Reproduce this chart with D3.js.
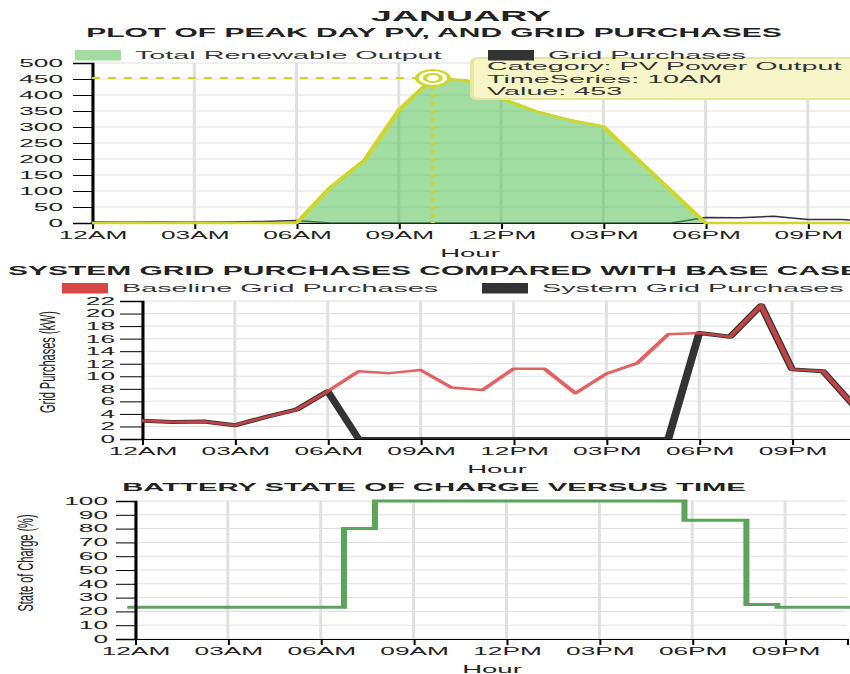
<!DOCTYPE html>
<html>
<head>
<meta charset="utf-8">
<script src="https://cdn.jsdelivr.net/npm/d3@7"></script>
<style>
  body { margin: 0; overflow: hidden; background: #fff; }
  svg { display: block; font-family: "Liberation Sans", Arial, sans-serif; }
  .grid line { stroke: #e0e0e0; }
  .axis path, .axis line { stroke: #000; }
  .axis text { fill: #222; font-size: 10.5px; font-family: "Liberation Sans", Arial, sans-serif; }
</style>
</head>
<body>
<svg id="chart"></svg>
<script>
// ---- data ----
var hours = d3.range(24);
var xTickHours = [0, 3, 6, 9, 12, 15, 18, 21];
var xTickLabels = ["12AM", "03AM", "06AM", "09AM", "12PM", "03PM", "06PM", "09PM"];

// peak day PV output (kW)
var pvOutput = [0, 0, 0, 0, 0, 0, 0, 112, 197, 353, 453, 445, 390, 350, 322, 302, 200, 100, 0, 0, 0, 0, 0, 0];
// grid purchases with the system (kW)
var systemGrid = [2.9, 2.7, 2.8, 2.2, 3.5, 4.7, 7.6, 0, 0, 0, 0, 0, 0, 0, 0, 0, 0, 0, 16.9, 16.3, 21.3, 11.1, 10.8, 5.3];
// grid purchases, base case (kW)
var baselineGrid = [2.9, 2.7, 2.8, 2.2, 3.5, 4.7, 7.6, 10.8, 10.5, 11.0, 8.2, 7.8, 11.2, 11.2, 7.3, 10.4, 12.1, 16.7, 16.9, 16.3, 21.3, 11.1, 10.8, 5.3];
// battery state of charge (%), hour boundaries 0..24
var socHours = d3.range(25);
var stateOfCharge = [23, 23, 23, 23, 23, 23, 23, 80, 100, 100, 100, 100, 100, 100, 100, 100, 100, 100, 86, 86, 25, 23, 23, 23, 23];
var SOC_OFFSET = 0.25; // soc samples are logged a quarter hour early

var pvTicks = d3.range(0, 501, 50);
var gridTicks = d3.range(0, 23, 2);
var socTicks = d3.range(0, 101, 10);

var highlightHour = 10;
var tooltipCategory = "PV Power Output";

// ---- layout ----
var W = 850, H = 674;
var SX = 2;      // whole chart is stretched sideways
var TX = 1.25;   // text gets a bit more
var LIME = "#d0d52a";
var RED = "#da4646";
var DARK = "#333";

function sx(v) { return v / SX; }

var svg = d3.select("#chart")
    .attr("width", W)
    .attr("height", H)
    .attr("viewBox", "0 0 " + (W / SX) + " " + H)
    .attr("preserveAspectRatio", "none");

function label(x, y, str, size, weight, anchor) {
    return svg.append("text")
        .attr("transform", "translate(" + sx(x) + "," + y + ") scale(" + TX + ",1)")
        .attr("text-anchor", anchor || "middle")
        .style("font-size", size + "px")
        .style("font-weight", weight || "normal")
        .attr("fill", "#222")
        .text(str);
}

function yLabel(x, y, str) {
    svg.append("text")
        .attr("transform", "translate(" + sx(x) + "," + y + ") rotate(-90)")
        .attr("text-anchor", "middle")
        .attr("dy", "0.35em")
        .style("font-size", "11px")
        .attr("fill", "#222")
        .text(str);
}

function legendItem(x, y, color, str, opacity) {
    svg.append("rect")
        .attr("x", sx(x)).attr("y", y - 5)
        .attr("width", 23).attr("height", 10.5)
        .attr("fill", color)
        .attr("fill-opacity", opacity || 1);
    label(x + 60, y + 4, str, 11.5, "normal", "start").attr("fill", "#333");
}

function frame(id, left, right, top, bottom, yMax, yTicks) {
    var x = d3.scaleLinear().domain([0, 23]).range([sx(left), sx(right)]);
    var y = d3.scaleLinear().domain([0, yMax]).range([bottom, top]);
    var g = svg.append("g");

    svg.append("clipPath").attr("id", id)
        .append("rect")
        .attr("x", x(0)).attr("y", top)
        .attr("width", x(23) - x(0)).attr("height", bottom - top);

    g.append("g").attr("class", "grid")
        .selectAll("line").data(yTicks).join("line")
        .attr("x1", x(0)).attr("x2", x(23))
        .attr("y1", y).attr("y2", y)
        .attr("stroke-width", 1);

    g.append("g").attr("class", "grid")
        .selectAll("line").data(xTickHours).join("line")
        .attr("x1", x).attr("x2", x)
        .attr("y1", y(0)).attr("y2", y(yMax))
        .attr("stroke-width", 1.5);

    return { x: x, y: y, g: g, clip: "url(#" + id + ")" };
}

function axes(c, yTicks, tickLen, tickPad) {
    var ax = c.g.append("g").attr("class", "axis")
        .attr("transform", "translate(0," + c.y.range()[0] + ")")
        .call(d3.axisBottom(c.x).tickValues(xTickHours).tickFormat(function (d, i) { return xTickLabels[i]; }));
    var ay = c.g.append("g").attr("class", "axis")
        .attr("transform", "translate(" + c.x(0) + ",0)")
        .call(d3.axisLeft(c.y).tickValues(yTicks).tickSize(tickLen).tickPadding(tickPad));
    ay.select(".domain").attr("stroke-width", 1.5);

    [ax, ay].forEach(function (a) {
        a.selectAll(".tick text")
            .attr("transform", "scale(" + TX + ",1)")
            .attr("x", function () { return +this.getAttribute("x") / TX; });
    });
}

// ================= chart 1: PV and grid purchases =================
var c1 = frame("clip1", 92, 876, 63, 223, 500, pvTicks);
axes(c1, pvTicks, 9.5, 5);

c1.g.append("path")
    .datum(hours)
    .attr("fill", "none")
    .attr("stroke", DARK)
    .attr("stroke-width", 1.5)
    .attr("d", d3.line().x(function (h) { return c1.x(h); }).y(function (h) { return c1.y(systemGrid[h]); }));

c1.g.append("path")
    .datum(hours)
    .attr("fill", "#45be45")
    .attr("fill-opacity", 0.5)
    .attr("d", d3.area().x(function (h) { return c1.x(h); }).y0(c1.y(0)).y1(function (h) { return c1.y(pvOutput[h]); }));

c1.g.append("path")
    .datum(hours)
    .attr("fill", "none")
    .attr("stroke", LIME)
    .attr("stroke-width", 2.5)
    .attr("stroke-linejoin", "round")
    .attr("d", d3.line().x(function (h) { return c1.x(h); }).y(function (h) { return c1.y(pvOutput[h]); }));

// hover marker
var hx = c1.x(highlightHour), hy = c1.y(pvOutput[highlightHour]);
c1.g.append("line")
    .attr("x1", c1.x(0)).attr("x2", hx).attr("y1", hy).attr("y2", hy)
    .attr("stroke", LIME).attr("stroke-width", 2).attr("stroke-dasharray", "4,4");
c1.g.append("line")
    .attr("x1", hx).attr("x2", hx).attr("y1", hy).attr("y2", c1.y(0))
    .attr("stroke", LIME).attr("stroke-width", 2).attr("stroke-dasharray", "4,4");
c1.g.append("circle").attr("cx", hx).attr("cy", hy).attr("r", 8)
    .attr("fill", "#fff").attr("stroke", LIME).attr("stroke-width", 2);
c1.g.append("circle").attr("cx", hx).attr("cy", hy).attr("r", 4)
    .attr("fill", "#fff").attr("stroke", LIME).attr("stroke-width", 2);

// tooltip
svg.append("rect")
    .attr("x", sx(472)).attr("y", 58)
    .attr("width", sx(440)).attr("height", 41)
    .attr("rx", 3).attr("ry", 4)
    .attr("fill", "#f5f5c8")
    .attr("stroke", "#e6e6a0")
    .attr("stroke-width", 2);

function hourName(h) {
    var hh = h % 12 === 0 ? 12 : h % 12;
    return (hh < 10 ? "0" : "") + hh + (h < 12 ? "AM" : "PM");
}
var tipLines = [
    "Category: " + tooltipCategory,
    "TimeSeries: " + hourName(highlightHour),
    "Value: " + pvOutput[highlightHour]
];
tipLines.forEach(function (t, i) {
    label(487, 70 + i * 12.5, t, 11.5, "normal", "start").attr("fill", "#333");
});

label(461, 21, "JANUARY", 15, "bold");
label(434, 37, "PLOT OF PEAK DAY PV, AND GRID PURCHASES", 12, "bold");
legendItem(75, 55, "#45be45", "Total Renewable Output", 0.5);
legendItem(488, 55, DARK, "Grid Purchases");
label(470, 257, "Hour", 11);

// ================= chart 2: grid purchases vs base case =================
var c2 = frame("clip2", 142, 854, 301, 439, 22, gridTicks);
axes(c2, gridTicks, 11, 2.5);

c2.g.append("path")
    .datum(hours)
    .attr("clip-path", c2.clip)
    .attr("fill", "none")
    .attr("stroke", DARK)
    .attr("stroke-width", 4)
    .attr("stroke-linejoin", "round")
    .attr("d", d3.line().x(function (h) { return c2.x(h); }).y(function (h) { return c2.y(systemGrid[h]); }));

c2.g.append("path")
    .datum(hours)
    .attr("clip-path", c2.clip)
    .attr("fill", "none")
    .attr("stroke", RED)
    .attr("stroke-opacity", 0.85)
    .attr("stroke-width", 2.5)
    .attr("stroke-linejoin", "round")
    .attr("d", d3.line().x(function (h) { return c2.x(h); }).y(function (h) { return c2.y(baselineGrid[h]); }));

label(434, 275, "SYSTEM GRID PURCHASES COMPARED WITH BASE CASE", 12, "bold");
legendItem(62, 288, RED, "Baseline Grid Purchases");
legendItem(482, 288, DARK, "System Grid Purchases");
yLabel(47, 362, "Grid Purchases (kW)");
label(497, 473, "Hour", 11);

// ================= chart 3: battery state of charge =================
var c3 = frame("clip3", 135, 847, 501, 639, 100, socTicks);

c3.g.append("path")
    .datum(socHours)
    .attr("fill", "none")
    .attr("stroke", "#5aa55a")
    .attr("stroke-width", 3)
    .attr("d", d3.line().curve(d3.curveStepAfter)
        .x(function (h) { return c3.x(h - SOC_OFFSET); })
        .y(function (h) { return c3.y(stateOfCharge[h]); }));

axes(c3, socTicks, 9.5, 4);

label(434, 491, "BATTERY STATE OF CHARGE VERSUS TIME", 11.7, "bold");
yLabel(25, 563, "State of Charge (%)");
label(492, 673, "Hour", 11);
</script>
</body>
</html>
